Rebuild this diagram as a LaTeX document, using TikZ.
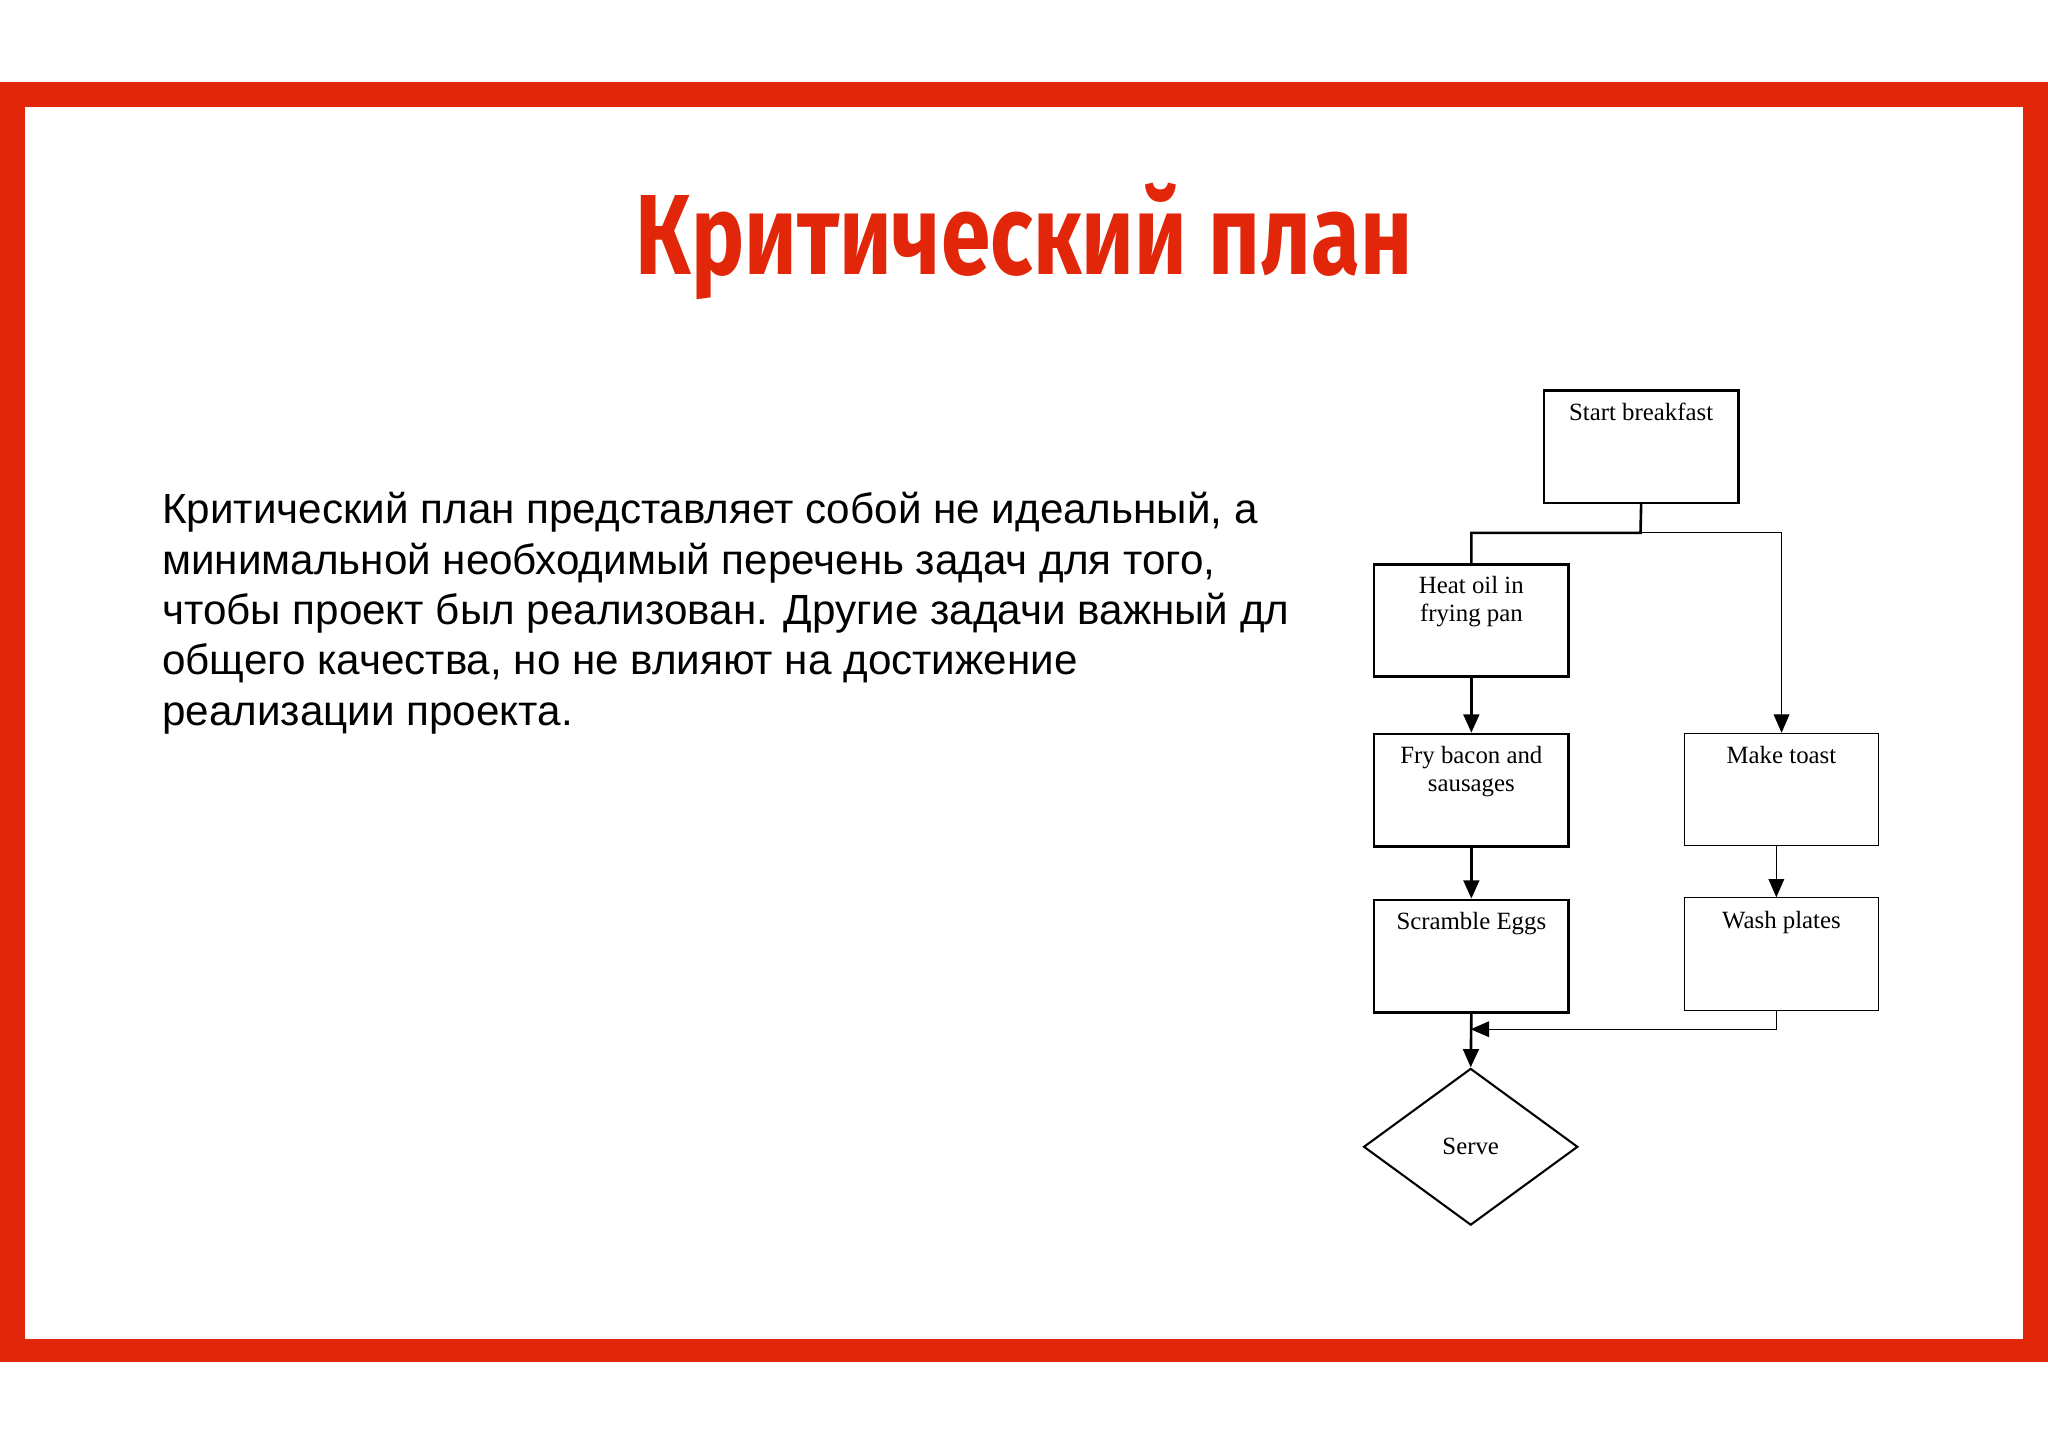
\documentclass[tikz,border=0pt]{standalone}
\usepackage{fontspec}
\setmainfont{Liberation Sans}
\newfontfamily\serifF{Liberation Serif}
\newfontfamily\titleF{Fira Sans}
\usetikzlibrary{shapes.geometric,arrows.meta,calc}
\definecolor{fred}{HTML}{E1260A}
\begin{document}
\begin{tikzpicture}[x=1pt,y=-1pt,
  bx/.style={draw,line width=2pt,minimum width=149pt,minimum height=86pt,anchor=north west,inner sep=0pt},
  tbx/.style={bx,line width=0.8pt},
  lbl/.style={font=\serifF\fontsize{19}{21}\selectfont,align=center,anchor=north},
  thick2/.style={line width=2pt},
  arr/.style={-{Triangle[length=14pt,width=12pt]}}]
\useasboundingbox (0,0) rectangle (1568,1108);
\fill[white] (0,0) rectangle (1568,1108);
\fill[fred] (0,63) rectangle (1568,1043);
\fill[white] (19,82) rectangle (1549,1025);
\node[text=fred] (title) at (784,185) {\resizebox{595pt}{70pt}{\titleF\bfseries\fontsize{80}{90}\selectfont Критический план}};
\node[anchor=north west,align=left,inner sep=0pt,font=\fontsize{32.3}{38.5}\selectfont] (body) at (124,377)
{Критический план представляет собой не идеальный, а\\
минимальной необходимый перечень задач для того,\\
чтобы проект был реализован. Другие задачи важный дл\\
общего качества, но не влияют на достижение\\
реализации проекта.};
\node[bx] (start) at (1181,298) {};
\node[lbl] at ($(start.north)+(0,7)$) {Start breakfast};
\node[bx] (heat) at (1051,431) {};
\node[lbl] at ($(heat.north)+(0,7)$) {Heat oil in\\frying pan};
\node[bx] (fry) at (1051,561) {};
\node[lbl] at ($(fry.north)+(0,7)$) {Fry bacon and\\sausages};
\node[bx] (egg) at (1051,688) {};
\node[lbl] at ($(egg.north)+(0,7)$) {Scramble Eggs};
\node[tbx] (toast) at (1289,561) {};
\node[lbl] at ($(toast.north)+(0,7)$) {Make toast};
\node[tbx] (wash) at (1289,687) {};
\node[lbl] at ($(wash.north)+(0,7)$) {Wash plates};
\node[diamond,draw,line width=1.6pt,minimum width=164pt,minimum height=120pt,inner sep=0pt,aspect=1.37,font=\serifF\fontsize{19}{21}\selectfont] (serve) at (1126,878) {Serve};
\coordinate (j1) at (1256,408);
\draw[thick2] (start.south) -- (j1) -| (heat.north);
\draw[line width=0.8pt,arr] (j1) -| (1364,561);
\draw[thick2,arr] (heat.south) -- (fry.north);
\draw[thick2,arr] (fry.south) -- (egg.north);
\draw[line width=0.8pt,arr] (1360,647) -- (1360,687);
\draw[thick2,arr] (egg.south) -- (serve.north);
\draw[line width=0.8pt,arr] (1360,773) |- (1126,788);
\end{tikzpicture}
\end{document}
